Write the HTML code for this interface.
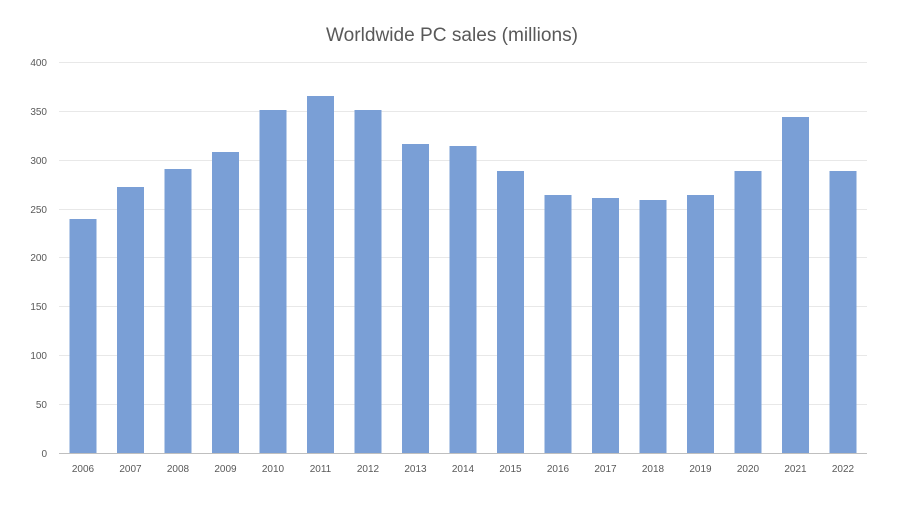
<!DOCTYPE html>
<html><head><meta charset="utf-8"><style>
html,body{margin:0;padding:0;background:#fff;}
svg{display:block;font-family:"Liberation Sans",sans-serif;}
</style></head><body>
<svg width="900" height="507" viewBox="0 0 900 507">
<rect width="900" height="507" fill="#fff"/>
<text x="452" y="41" text-anchor="middle" font-size="19" fill="#595959" textLength="252" lengthAdjust="spacingAndGlyphs">Worldwide PC sales (millions)</text>
<g stroke="#e8e8e8" stroke-width="1">
<line x1="59" x2="867" y1="62.5" y2="62.5"/>
<line x1="59" x2="867" y1="111.5" y2="111.5"/>
<line x1="59" x2="867" y1="160.5" y2="160.5"/>
<line x1="59" x2="867" y1="209.5" y2="209.5"/>
<line x1="59" x2="867" y1="257.5" y2="257.5"/>
<line x1="59" x2="867" y1="306.5" y2="306.5"/>
<line x1="59" x2="867" y1="355.5" y2="355.5"/>
<line x1="59" x2="867" y1="404.5" y2="404.5"/>
</g>
<g font-size="10" fill="#595959" text-anchor="end">
<text x="47" y="66">400</text>
<text x="47" y="115">350</text>
<text x="47" y="164">300</text>
<text x="47" y="213">250</text>
<text x="47" y="261">200</text>
<text x="47" y="310">150</text>
<text x="47" y="359">100</text>
<text x="47" y="408">50</text>
<text x="47" y="457">0</text>
</g>
<g fill="#7a9fd6">
<rect x="69.5" y="219" width="27" height="234"/>
<rect x="117" y="187" width="27" height="266"/>
<rect x="164.5" y="169" width="27" height="284"/>
<rect x="212" y="152" width="27" height="301"/>
<rect x="259.5" y="110" width="27" height="343"/>
<rect x="307" y="96" width="27" height="357"/>
<rect x="354.5" y="110" width="27" height="343"/>
<rect x="402" y="144" width="27" height="309"/>
<rect x="449.5" y="146" width="27" height="307"/>
<rect x="497" y="171" width="27" height="282"/>
<rect x="544.5" y="195" width="27" height="258"/>
<rect x="592" y="198" width="27" height="255"/>
<rect x="639.5" y="200" width="27" height="253"/>
<rect x="687" y="195" width="27" height="258"/>
<rect x="734.5" y="171" width="27" height="282"/>
<rect x="782" y="117" width="27" height="336"/>
<rect x="829.5" y="171" width="27" height="282"/>
</g>
<line x1="59" x2="867" y1="453.5" y2="453.5" stroke="#bfbfbf" stroke-width="1"/>
<g font-size="10" fill="#595959" text-anchor="middle">
<text x="83" y="472">2006</text>
<text x="130.5" y="472">2007</text>
<text x="178" y="472">2008</text>
<text x="225.5" y="472">2009</text>
<text x="273" y="472">2010</text>
<text x="320.5" y="472">2011</text>
<text x="368" y="472">2012</text>
<text x="415.5" y="472">2013</text>
<text x="463" y="472">2014</text>
<text x="510.5" y="472">2015</text>
<text x="558" y="472">2016</text>
<text x="605.5" y="472">2017</text>
<text x="653" y="472">2018</text>
<text x="700.5" y="472">2019</text>
<text x="748" y="472">2020</text>
<text x="795.5" y="472">2021</text>
<text x="843" y="472">2022</text>
</g>
</svg>
</body></html>
